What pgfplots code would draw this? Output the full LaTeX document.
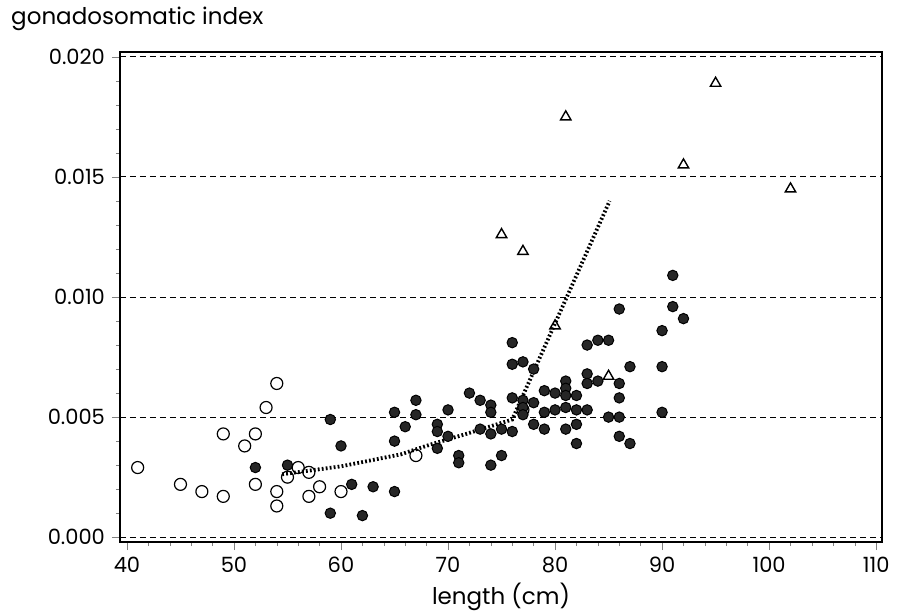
\documentclass[border=0pt]{standalone}
\usepackage{fontspec}
\setmainfont{Poppins}
\usepackage{pgfplots}
\pgfplotsset{compat=1.18}

\begin{document}
\begin{tikzpicture}
\begin{axis}[
  scale only axis,
  width=381pt, height=245pt,
  xmin=39.35, xmax=110.55,
  ymin=-0.0002, ymax=0.0202,
  xtick={40,50,60,70,80,90,100,110},
  ytick={0,0.005,0.010,0.015,0.020},
  minor x tick num=4,
  minor y tick num=4,
  xtick pos=bottom, ytick pos=left,
  tick align=outside,
  major tick length=4pt, minor tick length=2pt,
  scaled y ticks=false,
  /pgf/number format/assume math mode=true,
  yticklabel style={/pgf/number format/fixed, /pgf/number format/fixed zerofill, /pgf/number format/precision=3},
  tick label style={font=\fontsize{10.5}{12}\selectfont},
  label style={font=\fontsize{11.5}{13}\selectfont},
  xlabel={length (cm)},
  xlabel style={at={(axis description cs:0.5,-0.112)}, anchor=center},
  ylabel={gonadosomatic index},
  ylabel style={rotate=-90, at={(axis description cs:-0.152,1.067)}, anchor=west},
  ymajorgrids,
  major grid style={black, densely dashed, line width=0.5pt},
  axis line style={line width=0.7pt},
  clip=false,
]
% dotted fitted line
\addplot[black, line width=1.9pt, dash pattern=on 0.9pt off 1.1pt] coordinates {
(54.5,0.00262) (60,0.00295) (65.6,0.00345) (68.3,0.00385) (71.7,0.00430) (76,0.00490) (85.1,0.0140)};

% open circles
\addplot[only marks, mark=o, mark size=3pt, mark options={black, line width=0.6pt, fill=white}] coordinates {
(41,0.0029) (45,0.0022) (47,0.0019) (49,0.0017) (49,0.0043) (51,0.0038) (52,0.0043) (52,0.0022)
(53,0.0054) (54,0.0064) (54,0.0019) (54,0.0013) (55,0.0025) (56,0.0029) (57,0.0027) (57,0.0017)
(58,0.0021) (60,0.0019) (67,0.0034) (77,0.0053)};

% filled circles
\addplot[only marks, mark=*, mark size=2.6pt, mark options={draw=black, fill=black!85, line width=0.5pt}] coordinates {
(52,0.0029) (55,0.0030) (59,0.0049) (59,0.0010) (60,0.0038) (61,0.0022) (62,0.0009) (63,0.0021)
(65,0.0019) (65,0.0052) (65,0.0040) (66,0.0046) (67,0.0057) (67,0.0051) (69,0.0047) (69,0.0044)
(69,0.0037) (70,0.0042) (70,0.0053) (71,0.0034) (71,0.0031) (72,0.0060) (73,0.0057) (73,0.0045)
(74,0.0055) (74,0.0052) (74,0.0043) (74,0.0030) (75,0.0034) (75,0.0045) (76,0.0044) (76,0.0058)
(76,0.0072) (76,0.0081) (77,0.0073) (77,0.0057) (77,0.0054) (77,0.0051) (78,0.0070) (78,0.0056)
(78,0.0047) (79,0.0061) (79,0.0052) (79,0.0045) (80,0.0060) (80,0.0053) (81,0.0065) (81,0.0062)
(81,0.0059) (81,0.0054) (81,0.0045) (82,0.0059) (82,0.0053) (82,0.0047) (82,0.0039) (83,0.0068)
(83,0.0064) (83,0.0053) (83,0.0080) (84,0.0065) (84,0.0082) (85,0.0082) (85,0.0050) (86,0.0064)
(86,0.0058) (86,0.0050) (86,0.0042) (86,0.0095) (87,0.0071) (87,0.0039) (90,0.0086) (90,0.0071)
(90,0.0052) (91,0.0109) (91,0.0096) (92,0.0091)};

% triangles
\addplot[only marks, mark=triangle, mark size=3pt, mark options={black, line width=0.7pt, fill=white}] coordinates {
(75,0.0126) (77,0.0119) (81,0.0175) (92,0.0155) (95,0.0189) (102,0.0145) (85,0.0067) (80,0.0088)};
\end{axis}
\pgfresetboundingbox
\path (-60pt,-35pt) rectangle (389pt,271pt);
\end{tikzpicture}
\end{document}
